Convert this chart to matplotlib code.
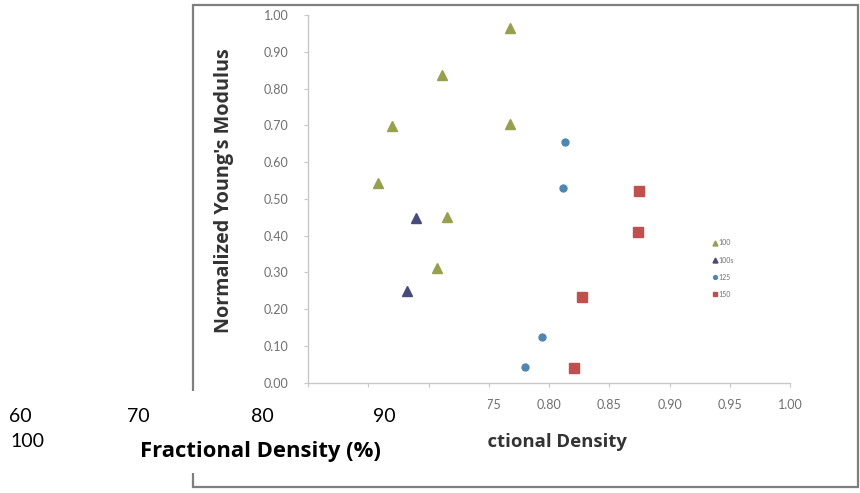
import matplotlib
matplotlib.use("Agg")
import matplotlib.pyplot as plt
from matplotlib.patches import Rectangle

# ---------------- data ----------------
series_labels = ["100", "100s", "125", "150"]
s100_x = [0.768, 0.711, 0.670, 0.768, 0.658, 0.715, 0.707]
s100_y = [0.965, 0.837, 0.698, 0.703, 0.542, 0.450, 0.313]
s100s_x = [0.690, 0.682]
s100s_y = [0.447, 0.249]
s125_x = [0.813, 0.812, 0.794, 0.780]
s125_y = [0.655, 0.530, 0.123, 0.044]
s150_x = [0.875, 0.874, 0.827, 0.821]
s150_y = [0.522, 0.411, 0.232, 0.041]
x_ticks = [0.60, 0.65, 0.70, 0.75, 0.80, 0.85, 0.90, 0.95, 1.00]
y_ticks = [0.0, 0.1, 0.2, 0.3, 0.4, 0.5, 0.6, 0.7, 0.8, 0.9, 1.0]
overlay_ticks = ["60", "70", "80", "90", "100"]

W, H = 860, 493
FONT = ["Lato", "DejaVu Sans"]
TITLE_FONT = ["Open Sans", "DejaVu Sans"]
plt.rcParams["font.family"] = FONT

fig = plt.figure(figsize=(W / 100, H / 100), dpi=100)
fig.patch.set_facecolor("white")


def fx(px):
    return px / W


def fy(py):
    return 1 - py / H


# chart frame
fig.add_artist(Rectangle((fx(193), fy(487)), fx(858) - fx(193), fy(5) - fy(487),
                         transform=fig.transFigure, fill=False,
                         edgecolor="#7f7f7f", lw=1.6, zorder=1))

ax = fig.add_axes([fx(308), fy(382.7), fx(790) - fx(308), fy(15) - fy(382.7)])
ax.set_xlim(0.60, 1.00)
ax.set_ylim(0.0, 1.0)

h1, = ax.plot(s100_x, s100_y, ls="none", marker="^", ms=6.5, color="#97a04e", mec="#97a04e")
h2, = ax.plot(s100s_x, s100s_y, ls="none", marker="^", ms=6.5, color="#474b7a", mec="#474b7a")
h3, = ax.plot(s125_x, s125_y, ls="none", marker="o", ms=5, color="#4f86b2", mec="#4f86b2")
h4, = ax.plot(s150_x, s150_y, ls="none", marker="s", ms=6.5, color="#c0504d", mec="#c0504d")

for side in ("top", "right"):
    ax.spines[side].set_visible(False)
for side in ("left", "bottom"):
    ax.spines[side].set_color("#c8c8c8")
    ax.spines[side].set_linewidth(1.0)

ax.set_xticks(x_ticks)
ax.set_xticklabels([f"{v:.2f}" for v in x_ticks])
ax.set_yticks(y_ticks)
ax.set_yticklabels([f"{v:.2f}" for v in y_ticks])
ax.tick_params(axis="both", direction="out", length=3, color="#c8c8c8",
               labelsize=9, labelcolor="#6f6f6f")
ax.tick_params(axis="x", pad=9)
ax.tick_params(axis="y", pad=11)

leg = ax.legend([h1, h2, h3, h4], series_labels, loc="upper left",
                bbox_to_anchor=(fx(709), fy(236)), bbox_transform=fig.transFigure,
                frameon=False, fontsize=5, handlelength=0.6, handletextpad=0.3,
                labelspacing=1.45, borderpad=0, markerscale=0.55)
for t in leg.get_texts():
    t.set_color("#707070")

# chart axis titles
fig.text(fx(224), fy(191), "Normalized Young's Modulus", rotation=90,
         ha="center", va="center", fontsize=14.2, fontweight="bold",
         color="#333333", family=TITLE_FONT)
fig.text(fx(542), fy(447), "Fractional Density", ha="center", va="baseline",
         fontsize=13.3, fontweight="bold", color="#333333", family=TITLE_FONT)

# overlay box with percentage ticks and title
ov = fig.add_axes([0, fy(473), fx(488), fy(391) - fy(473)], zorder=10)
ov.set_xlim(0, 488)
ov.set_ylim(473, 391)
ov.set_facecolor("white")
ov.set_xticks([])
ov.set_yticks([])
for s in ov.spines.values():
    s.set_visible(False)

row_x = [20, 138, 262, 384]
for lab, xx in zip(overlay_ticks[:4], row_x):
    ov.text(xx, 422, lab, ha="center", va="baseline", fontsize=14, color="black")
ov.text(10, 447, overlay_ticks[4], ha="left", va="baseline", fontsize=14, color="black")
ov.text(140, 457, "Fractional Density (%)", ha="left", va="baseline",
        fontsize=15.8, fontweight="bold", color="black", family=TITLE_FONT)

fig.savefig("out.png", dpi=100, facecolor="white")
